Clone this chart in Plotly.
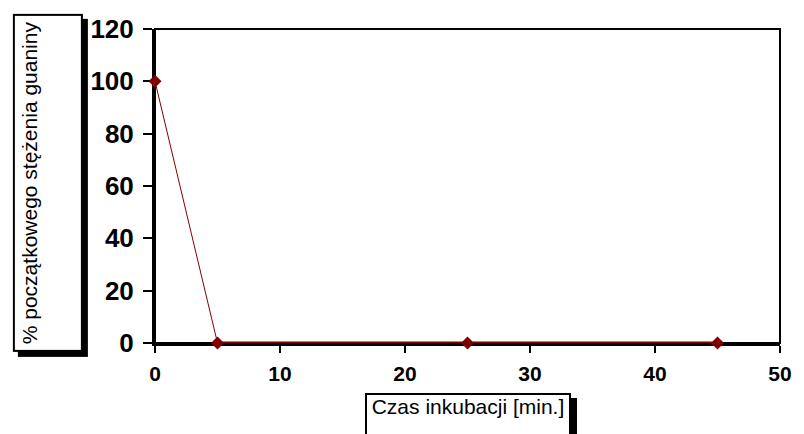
import plotly.graph_objects as go

# Data
time_min = [0, 5, 25, 45]
guanine_pct = [100, 0, 0, 0]

x_ticks = [0, 10, 20, 30, 40, 50]
y_ticks = [0, 20, 40, 60, 80, 100, 120]

y_title = "% początkowego stężenia guaniny"
x_title = "Czas inkubacji [min.]"

RED = "#800000"
FONT = "Liberation Sans, Arial, sans-serif"

W, H = 804, 434
ML, MR, MT, MB = 155, 13, 29, 91
PW, PH = W - ML - MR, H - MT - MB

fig = go.Figure()
# thick segment along zero
fig.add_trace(go.Scatter(x=time_min[1:], y=guanine_pct[1:], mode="lines",
                         line=dict(color=RED, width=3), cliponaxis=False,
                         hoverinfo="skip", showlegend=False))
fig.add_trace(go.Scatter(x=time_min, y=guanine_pct, mode="lines+markers",
                         line=dict(color=RED, width=1),
                         marker=dict(symbol="diamond", size=10, color=RED),
                         cliponaxis=False, showlegend=False))

def px2paper_x(px):
    return (px - ML) / PW

def px2paper_y(py):
    return (H - MB - py) / PH

annotations = []
# y title box (shadow + box)
ybox = dict(l=11, r=81, t=14, b=352)
for shadow in (True, False):
    annotations.append(dict(
        xref="paper", yref="paper",
        x=px2paper_x((ybox["l"] + ybox["r"]) / 2), y=px2paper_y((ybox["t"] + ybox["b"]) / 2),
        xanchor="center", yanchor="middle",
        xshift=5 if shadow else 0, yshift=-5 if shadow else 0,
        text=" " if shadow else y_title, textangle=-90, showarrow=False,
        width=ybox["b"] - ybox["t"] - 10, height=ybox["r"] - ybox["l"] - 10,
        valign="top", align="center", borderpad=3,
        bgcolor="black" if shadow else "white",
        bordercolor="black", borderwidth=2,
        font=dict(family=FONT, size=21, color="black"),
    ))
# x title box
xbox = dict(l=370, r=576, t=393, b=460)
for shadow in (True, False):
    annotations.append(dict(
        xref="paper", yref="paper",
        x=px2paper_x((xbox["l"] + xbox["r"]) / 2), y=px2paper_y((xbox["t"] + xbox["b"]) / 2),
        xanchor="center", yanchor="middle",
        xshift=6 if shadow else 0, yshift=-5 if shadow else 0,
        text=" " if shadow else x_title, showarrow=False,
        width=xbox["r"] - xbox["l"] - 4, height=xbox["b"] - xbox["t"] - 4,
        valign="top", align="center", borderpad=0,
        bgcolor="black" if shadow else "white",
        bordercolor="black", borderwidth=2,
        font=dict(family=FONT, size=21, color="black"),
    ))

fig.update_layout(
    width=W, height=H,
    margin=dict(l=ML, r=MR, t=MT, b=MB, pad=0),
    paper_bgcolor="white", plot_bgcolor="white",
    font=dict(family=FONT, color="black"),
    xaxis=dict(range=[0, 50], tickmode="array", tickvals=x_ticks,
               ticks="outside", ticklen=7, tickwidth=2, tickcolor="black",
               showline=True, linewidth=3, linecolor="black",
               showgrid=False, zeroline=False, layer="below traces",
               tickfont=dict(family=FONT, size=21, weight="bold", color="black"),
               ticklabelstandoff=3),
    yaxis=dict(range=[0, 120], tickmode="array", tickvals=y_ticks,
               ticks="outside", ticklen=9, tickwidth=2, tickcolor="black",
               showline=True, linewidth=3, linecolor="black",
               showgrid=False, zeroline=False, layer="below traces",
               tickfont=dict(family=FONT, size=26, weight="bold", color="black"),
               ticklabelstandoff=4),
    xaxis2=dict(range=[0, 50], overlaying="x", anchor="y", tickmode="array", tickvals=x_ticks,
                ticks="inside", ticklen=7, tickwidth=2, tickcolor="black",
                showticklabels=False, showline=False, showgrid=False, zeroline=False,
                layer="below traces"),
    yaxis2=dict(range=[0, 120], overlaying="y", anchor="x", tickmode="array", tickvals=y_ticks,
                ticks="inside", ticklen=7, tickwidth=2, tickcolor="black",
                showticklabels=False, showline=False, showgrid=False, zeroline=False,
                layer="below traces"),
    shapes=[dict(type="rect", xref="x domain", yref="y domain", x0=0, x1=1, y0=0, y1=1,
                 line=dict(color="black", width=2), layer="below")],
    annotations=annotations,
    showlegend=False,
)

fig.write_html("out.html", config={"displayModeBar": False},
               post_script="document.body.style.margin='0';document.body.style.overflow='hidden';")
